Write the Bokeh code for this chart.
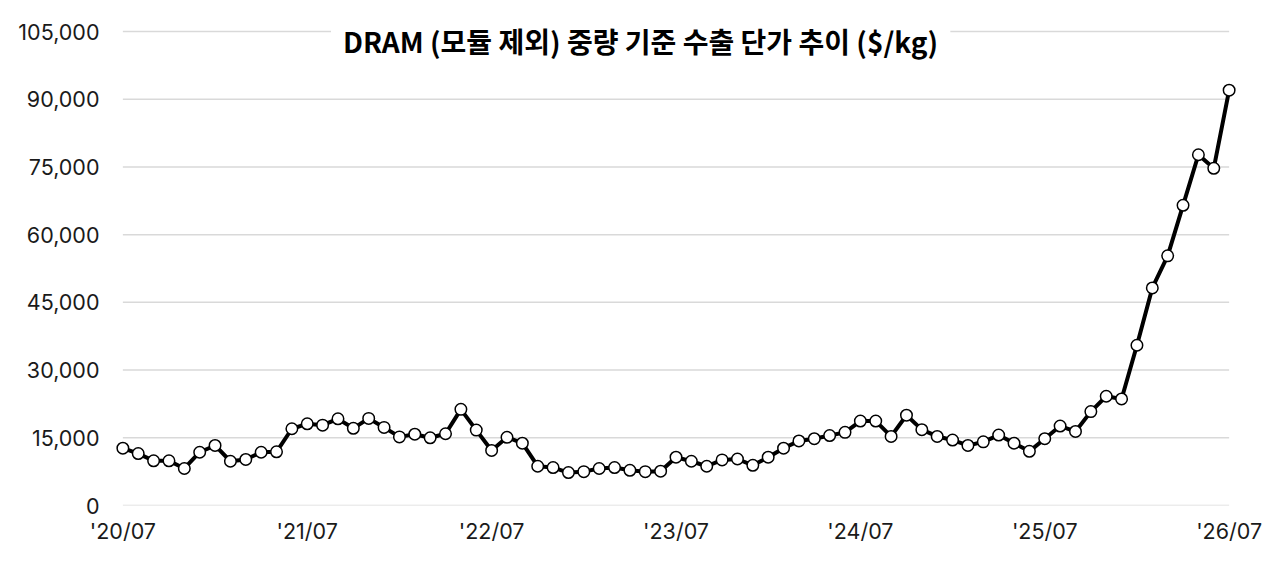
from bokeh.plotting import figure
from bokeh.models import Range1d, FixedTicker, NumeralTickFormatter, Label
from bokeh.embed import file_html
from bokeh.resources import INLINE

# monthly DRAM export unit price ($/kg), '20/07 .. '26/07
price = [12700, 11500, 9900, 9900, 8200, 11800, 13300, 9800, 10200, 11800,
         11900, 17000, 18100, 17800, 19200, 17100, 19300, 17300, 15200, 15800,
         15000, 15900, 21300, 16700, 12200, 15100, 13800, 8700, 8400, 7300,
         7500, 8200, 8400, 7800, 7500, 7600, 10700, 9800, 8700, 10100,
         10300, 8900, 10700, 12700, 14300, 14800, 15500, 16200, 18700, 18700,
         15300, 20000, 16800, 15300, 14500, 13300, 14100, 15600, 13800, 12000,
         14800, 17600, 16400, 20800, 24200, 23600, 35500, 48200, 55300, 66500,
         77700, 74700, 92000]
month_idx = list(range(len(price)))

tick_pos = [0, 12, 24, 36, 48, 60, 72]
tick_labels = ["'20/07", "'21/07", "'22/07", "'23/07", "'24/07", "'25/07", "'26/07"]
y_ticks = [0, 15000, 30000, 45000, 60000, 75000, 90000, 105000]

title_text = "DRAM (모듈 제외) 중량 기준 수출 단가 추이 ($/kg)"

p = figure(width=1272, height=559, output_backend="svg", toolbar_location=None,
           x_range=Range1d(-1, 73), y_range=Range1d(0, 107000),
           min_border_left=107, min_border_right=28, min_border_top=22,
           min_border_bottom=54, background_fill_color="white",
           border_fill_color="white")
p.outline_line_color = None

# grid lines only across the data span (first to last month)
p.xgrid.grid_line_color = None
p.ygrid.grid_line_color = None
p.segment(x0=[month_idx[0]] * len(y_ticks), y0=y_ticks,
          x1=[month_idx[-1]] * len(y_ticks), y1=y_ticks,
          line_color="#d9d9d9", line_width=1.5)

p.line(month_idx, price, line_color="black", line_width=4)
p.scatter(month_idx, price, size=11.5, fill_color="white", line_color="black",
          line_width=1.5)

# axes
p.xaxis.ticker = FixedTicker(ticks=tick_pos)
p.xaxis.major_label_overrides = dict(zip(tick_pos, tick_labels))
p.yaxis.ticker = FixedTicker(ticks=y_ticks)
p.yaxis.formatter = NumeralTickFormatter(format="0,0")
for ax in (p.xaxis, p.yaxis):
    ax.axis_line_color = None
    ax.major_tick_line_color = None
    ax.minor_tick_line_color = None
    ax.major_label_text_font = "Inter"
    ax.major_label_text_font_size = "21.5px"
    ax.major_label_text_color = "#1a1a1a"
p.xaxis.major_label_standoff = 6
p.yaxis.major_label_standoff = 2

# title sits on top of the plot, covering the top grid line
title = Label(x=33.7, y=102800, text=title_text, text_align="center",
              text_baseline="middle", text_font="Noto Sans CJK KR",
              text_font_style="bold", text_font_size="28px", text_color="black",
              background_fill_color="white", padding=12)
p.add_layout(title)

open("out.html", "w").write(file_html(p, INLINE))
